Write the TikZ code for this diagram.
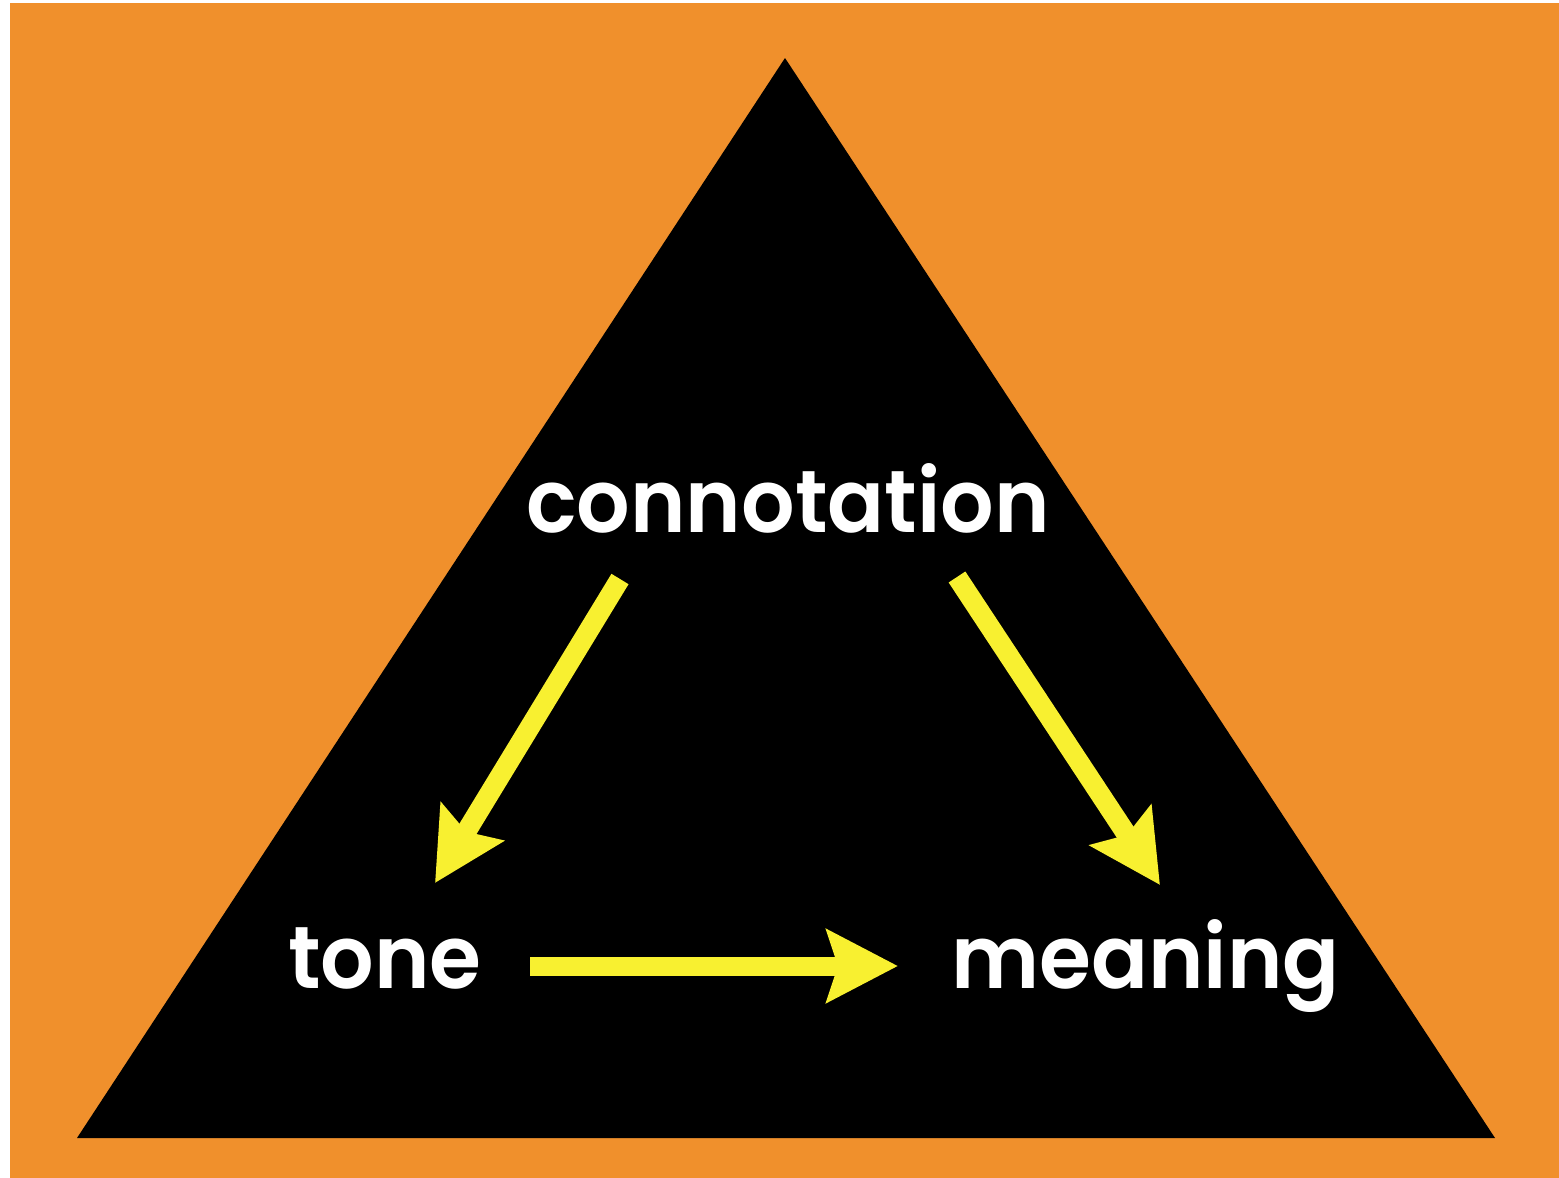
\documentclass[tikz,border=0pt]{standalone}
\usepackage{fontspec}
\newfontfamily\labelfont{Poppins}[UprightFont={* SemiBold}, FakeStretch=0.955]
\usetikzlibrary{arrows.meta}
\definecolor{bgorange}{RGB}{240,144,44}
\definecolor{arrowyellow}{RGB}{248,240,48}
\tikzset{
  word/.style={text=white, font=\labelfont\fontsize{88}{88}\selectfont, inner sep=0pt, anchor=base west},
  flow/.style={draw=arrowyellow, line width=20pt,
    -{Stealth[length=71pt, width=72pt, inset=11pt, fill=arrowyellow]}},
}
\begin{document}
\begin{tikzpicture}[x=1pt, y=-1pt]
  \useasboundingbox (0,0) rectangle (1559,1178);
  \fill[white] (0,0) rectangle (1559,1178);
  \fill[bgorange] (10,3) rectangle (1559,1178);
  % black triangle
  \fill[black] (785,58) -- (1495,1138) -- (77,1138) -- cycle;
  % labels
  \node[word] (conn) at (526,532) {connotation};
  \node[word] (tone) at (288,988) {tone};
  \node[word] (mean) at (951,988) {meaning};
  % arrow end points
  \coordinate (c1) at (620,579);
  \coordinate (t1) at (435,883);
  \coordinate (c2) at (957,577);
  \coordinate (m1) at (1160,885);
  \coordinate (t2) at (530,966);
  \coordinate (m2) at (898,966);
  \draw[flow] (c1) -- (t1);
  \draw[flow] (c2) -- (m1);
  \draw[flow, line width=19pt] (t2) -- (m2);
\end{tikzpicture}
\end{document}
